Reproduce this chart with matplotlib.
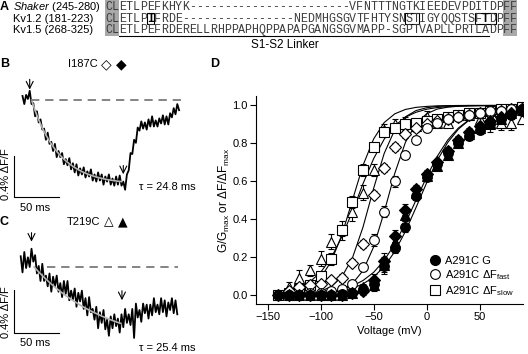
import numpy as np
import matplotlib.pyplot as plt
from matplotlib.patches import Rectangle
from matplotlib.lines import Line2D

plt.rcParams['font.family'] = ['Liberation Sans', 'DejaVu Sans']
plt.rcParams['mathtext.fontset'] = 'custom'
plt.rcParams['mathtext.rm'] = 'Liberation Sans'
plt.rcParams['mathtext.it'] = 'Liberation Sans:italic'
plt.rcParams['mathtext.bf'] = 'Liberation Sans:bold'

#%% panel A - sequence alignment
seq_names = [r'$\it{Shaker}$ (245-280)', 'Kv1.2 (181-223)', 'Kv1.5 (268-325)']
seq_rows = ['CLETLPEFKHYK-----------------------VFNTTTNGTKIEEDEVPDITDPFF',
            'CLETLPIFRDE----------------NEDMHGSGVTFHTYSNSTIGYQQSTSFTDPFF',
            'CLETLPEFRDERELLRHPPAPHQPPAPAPGANGSGVMAPP-SGPTVAPLLPRTLADPFF']
boxed = [(1, 6, 1), (1, 43, 2), (1, 53, 3)]   # row, first char, n chars
bold_chars = [(1, 6), (1, 54)]

#%% panels B, C - fluorescence traces (ms, % dF/F)
b_t0, b_dt = 25, 2
b_trace = [0.04, -0.04, 0.05, 0.01, 0.09, -0.04, -0.03, -0.16, -0.11, -0.22,
           -0.19, -0.29, -0.28, -0.39, -0.32, -0.43, -0.41, -0.50, -0.43, -0.56,
           -0.50, -0.56, -0.52, -0.63, -0.58, -0.64, -0.57, -0.68, -0.62, -0.71,
           -0.63, -0.74, -0.67, -0.73, -0.66, -0.76, -0.70, -0.75, -0.68, -0.79,
           -0.73, -0.80, -0.71, -0.79, -0.73, -0.83, -0.75, -0.80, -0.73, -0.83,
           -0.77, -0.84, -0.75, -0.83, -0.74, -0.84, -0.80, -0.88, -0.73, -0.69,
           -0.52, -0.53, -0.39, -0.42, -0.27, -0.30, -0.21, -0.28, -0.22, -0.29,
           -0.19, -0.26, -0.16, -0.26, -0.20, -0.26, -0.18, -0.23, -0.15, -0.24,
           -0.16, -0.24, -0.13, -0.17, -0.08, -0.14, -0.04, -0.10]
b_fit_t = [35, 39, 43, 47, 51, 55, 59, 63, 67, 71, 75, 79, 83, 87, 91, 95, 99,
           103, 107, 111, 115, 119, 123, 127, 131, 135]
b_fit = [0, -0.104, -0.194, -0.274, -0.343, -0.404, -0.457, -0.504, -0.544,
         -0.580, -0.611, -0.638, -0.662, -0.683, -0.702, -0.718, -0.732, -0.744,
         -0.755, -0.764, -0.772, -0.780, -0.786, -0.791, -0.796, -0.800]

c_t0, c_dt = 23, 2
c_trace = [0.10, -0.05, 0.14, -0.01, 0.09, 0.00, 0.17, 0.05, 0.11, -0.06,
           0.01, -0.13, 0.03, -0.13, -0.08, -0.18, -0.06, -0.23, -0.09, -0.18,
           -0.08, -0.23, -0.15, -0.28, -0.13, -0.25, -0.13, -0.31, -0.22, -0.30,
           -0.20, -0.37, -0.24, -0.32, -0.22, -0.39, -0.29, -0.45, -0.28, -0.42,
           -0.39, -0.49, -0.37, -0.57, -0.42, -0.52, -0.40, -0.58, -0.49, -0.64,
           -0.46, -0.57, -0.44, -0.55, -0.48, -0.61, -0.44, -0.56, -0.39, -0.52,
           -0.44, -0.54, -0.39, -0.66, -0.34, -0.47, -0.40, -0.51, -0.34, -0.43,
           -0.35, -0.48, -0.35, -0.45, -0.29, -0.42, -0.35, -0.44, -0.29, -0.42,
           -0.31, -0.46, -0.33, -0.40, -0.29, -0.43, -0.31, -0.44]
c_fit_t = [38, 42, 46, 50, 54, 58, 62, 66, 70, 74, 78, 82, 86, 90, 94, 98, 102,
           106, 110, 114, 118, 122, 126, 130, 134]
c_fit = [0, -0.037, -0.071, -0.104, -0.136, -0.166, -0.194, -0.221, -0.247,
         -0.272, -0.295, -0.317, -0.338, -0.359, -0.378, -0.396, -0.413, -0.429,
         -0.445, -0.460, -0.474, -0.488, -0.500, -0.513, -0.524]

#%% panel D - G-V and F-V curves
nan = np.nan
volts = [-140, -130, -120, -110, -100, -90, -80, -70, -60, -50, -40, -30,
         -20, -10, 0, 10, 20, 30, 40, 50, 60, 70, 80, 90]
g_a291 = [0.0, 0.0, 0.0, 0.0, 0.0, 0.0, 0.005, 0.01, 0.03, 0.06, 0.15, 0.25,
          0.36, 0.52, 0.62, 0.69, 0.75, 0.80, 0.84, 0.87, 0.90, 0.93, 0.95, 0.97]
g_i187 = [nan, 0.0, 0.0, 0.0, 0.0, 0.0, 0.0, 0.01, 0.02, 0.08, 0.18, 0.31,
          0.45, 0.56, 0.64, 0.70, 0.76, 0.82, 0.86, 0.89, 0.92, 0.94, 0.96, 0.98]
g_t219 = [nan, 0.0, 0.0, 0.0, 0.0, 0.0, 0.0, 0.01, 0.04, 0.05, 0.16, 0.28,
          0.42, 0.54, 0.63, 0.68, 0.74, 0.80, 0.85, 0.88, 0.91, 0.93, 0.96, 0.975]
f_fast = [0.0, 0.0, 0.0, 0.01, 0.01, 0.02, 0.03, 0.06, 0.145, 0.29, 0.44, 0.60,
          0.74, 0.82, 0.88, 0.91, 0.93, 0.94, 0.95, 0.96, 0.97, 0.97, 0.98, 0.98]
f_slow = [0.0, 0.01, 0.03, 0.05, 0.10, 0.19, 0.34, 0.49, 0.66, 0.78, 0.86, 0.88,
          0.90, 0.91, 0.92, 0.93, 0.94, 0.95, 0.96, 0.96, 0.97, 0.98, 0.98, 0.99]
f_i187 = [0.0, 0.02, 0.04, 0.05, 0.06, 0.08, 0.09, 0.17, 0.27, 0.53, 0.67, 0.78,
          0.85, 0.88, 0.90, 0.92, 0.93, 0.94, 0.95, 0.96, 0.96, 0.97, 0.98, 0.98]
f_t219 = [nan, 0.04, 0.09, 0.13, 0.19, 0.28, 0.34, 0.44, 0.54, 0.66, 0.87, 0.90,
          0.91, 0.89, 0.94, 0.91, 0.91, 0.95, 0.95, 0.93, 0.90, 0.91, 0.91, 0.93]

e_g = [0.01, 0.01, 0.01, 0.01, 0.01, 0.01, 0.01, 0.01, 0.02, 0.03, 0.04, 0.03,
       0.03, 0.02, 0.02, 0.02, 0.02, 0.02, 0.02, 0.02, 0.02, 0.02, 0.02, 0.02]
e_fast = [0.01, 0.01, 0.01, 0.01, 0.01, 0.01, 0.01, 0.01, 0.02, 0.03, 0.03, 0.03,
          0.02, 0.02, 0.02, 0.01, 0.01, 0.01, 0.01, 0.01, 0.01, 0.01, 0.01, 0.01]
e_slow = [0.01, 0.01, 0.02, 0.02, 0.02, 0.03, 0.03, 0.03, 0.03, 0.02, 0.02, 0.02,
          0.01, 0.01, 0.01, 0.01, 0.01, 0.01, 0.01, 0.01, 0.01, 0.01, 0.01, 0.01]
e_i187 = [0.01, 0.01, 0.01, 0.01, 0.01, 0.01, 0.02, 0.02, 0.02, 0.02, 0.02, 0.02,
          0.02, 0.01, 0.01, 0.01, 0.01, 0.01, 0.01, 0.01, 0.01, 0.01, 0.01, 0.01]
e_t219 = [nan, 0.03, 0.04, 0.03, 0.04, 0.04, 0.05, 0.05, 0.04, 0.03, 0.03, 0.03,
          0.03, 0.03, 0.03, 0.02, 0.02, 0.02, 0.02, 0.03, 0.04, 0.04, 0.04, 0.03]

fit_v = volts
fit_slow = [0.005, 0.010, 0.021, 0.044, 0.090, 0.177, 0.316, 0.500, 0.684, 0.823,
            0.910, 0.956, 0.979, 0.990, 0.995, 0.998, 0.999, 1, 1, 1, 1, 1, 1, 1]
fit_t219 = [0.013, 0.023, 0.040, 0.070, 0.119, 0.196, 0.306, 0.441, 0.587, 0.719,
            0.822, 0.893, 0.938, 0.964, 0.980, 0.989, 0.994, 0.996, 0.998, 0.999,
            0.999, 1, 1, 1]
fit_i187 = [0.001, 0.002, 0.004, 0.009, 0.019, 0.044, 0.095, 0.195, 0.358, 0.562,
            0.747, 0.872, 0.940, 0.973, 0.988, 0.995, 0.998, 0.999, 1, 1, 1, 1, 1, 1]
fit_fast = [0.0002, 0.0004, 0.001, 0.002, 0.005, 0.012, 0.027, 0.060, 0.128, 0.253,
            0.438, 0.642, 0.805, 0.905, 0.956, 0.981, 0.991, 0.996, 0.998, 0.999,
            1, 1, 1, 1]
fit_g1 = [0.0015, 0.0025, 0.0041, 0.0067, 0.011, 0.018, 0.029, 0.047, 0.076, 0.119,
          0.182, 0.269, 0.378, 0.5, 0.622, 0.731, 0.818, 0.881, 0.924, 0.953,
          0.971, 0.982, 0.989, 0.993]
fit_g2 = [0.0009, 0.0015, 0.0026, 0.0044, 0.0075, 0.0125, 0.021, 0.035, 0.058, 0.094,
          0.149, 0.229, 0.335, 0.461, 0.591, 0.710, 0.805, 0.875, 0.922, 0.952,
          0.971, 0.983, 0.990, 0.994]

#%% figure, with a pixel-space overlay for the text panel
fig = plt.figure(figsize=(5.28, 3.54), dpi=100)
ax0 = fig.add_axes([0, 0, 1, 1])
ax0.set_xlim(0, 528)
ax0.set_ylim(354, 0)
ax0.axis('off')

x0, cw = 105.0, 6.98
row_y = [7.0, 18.6, 30.2]
ax0.add_patch(Rectangle((x0, 0), 2 * cw, 36, color='#a8a8a8', lw=0, zorder=0))
ax0.add_patch(Rectangle((x0 + 57 * cw, 0), 2 * cw, 36, color='#a8a8a8', lw=0, zorder=0))
for r in range(3):
    ax0.text(13, row_y[r], seq_names[r], fontsize=8, va='center', ha='left')
    for i, ch in enumerate(seq_rows[r]):
        isbold = (r, i) in bold_chars
        ax0.text(x0 + (i + 0.5) * cw, row_y[r], ch, family='Liberation Mono',
                 fontsize=8.4, ha='center', va='center',
                 color='black' if isbold else '#3c3c3c',
                 fontweight='bold' if isbold else 'normal')
for r, i0, n in boxed:
    ax0.add_patch(Rectangle((x0 + i0 * cw, row_y[r] - 5.2), n * cw, 10.4,
                            fill=False, ec='black', lw=0.8))
ax0.plot([x0 + 2 * cw, x0 + 55 * cw], [35.5, 35.5], color='black', lw=0.8)
ax0.text(285, 44.5, 'S1-S2 Linker', fontsize=8.5, ha='center', va='center')

for lab, x, y in [('A', 0, 7.0), ('B', 0, 64), ('C', 0, 222), ('D', 210, 64)]:
    ax0.text(x, y, lab, fontsize=9, fontweight='bold', ha='left', va='center')

ax0.text(68, 64, 'I187C', fontsize=8, va='center')
ax0.text(106, 64, '\u25c7', family='DejaVu Sans', fontsize=10, ha='center', va='center')
ax0.text(121, 64, '\u25c6', family='DejaVu Sans', fontsize=10, ha='center', va='center')
ax0.text(67, 222, 'T219C', fontsize=8, va='center')
ax0.text(109, 222, '\u25b3', family='DejaVu Sans', fontsize=9, ha='center', va='center')
ax0.text(122.5, 222, '\u25b2', family='DejaVu Sans', fontsize=9, ha='center', va='center')

for y in [174, 312]:
    ax0.text(6, y, '0.4% \u0394F/F', fontsize=8, rotation=90, ha='center', va='center')
ax0.text(35.5, 208, '50 ms', fontsize=8, ha='center', va='center')
ax0.text(35.5, 343, '50 ms', fontsize=8, ha='center', va='center')
ax0.text(139, 187, '\u03c4 = 24.8 ms', fontsize=8, ha='left', va='center')
ax0.text(139, 348, '\u03c4 = 25.4 ms', fontsize=8, ha='left', va='center')

#%% traces
ms_px = 0.9
def trace_axes(rect, ylim):
    ax = fig.add_axes(rect)
    ax.set_xlim(0, 200 / ms_px)
    ax.set_ylim(*ylim)
    ax.axis('off')
    return ax

arrow = dict(arrowstyle='->,head_length=0.5,head_width=0.25', lw=0.8)

axB = trace_axes([0, 1 - 215 / 354, 200 / 528, 140 / 354], (-115 / 102, 25 / 102))
tb = b_t0 + b_dt * np.arange(len(b_trace))
axB.plot(tb, b_trace, color='black', lw=1.3)
axB.plot(b_fit_t, b_fit, color='#b4b4b4', lw=1.2)
axB.plot([35, 206], [0, 0], color='#707070', lw=1.2, dashes=(5, 3.5))
axB.annotate('', xy=(33, 0.075), xytext=(33, 0.23), arrowprops=arrow)
axB.annotate('', xy=(137, -0.755), xytext=(137, -0.615), arrowprops=arrow)
sb_t, sb_y = 15.6, -0.95
axB.plot([sb_t, sb_t, sb_t + 50], [sb_y + 0.4, sb_y, sb_y], color='black', lw=0.8)

axC = trace_axes([0, 0, 200 / 528, 129 / 354], (-87 / 107.5, 42 / 107.5))
tc = c_t0 + c_dt * np.arange(len(c_trace))
axC.plot(tc, c_trace, color='black', lw=1.3)
axC.plot(c_fit_t, c_fit, color='#b4b4b4', lw=1.2)
axC.plot([52, 198], [0, 0], color='#707070', lw=1.2, dashes=(5, 3.5))
axC.annotate('', xy=(35, 0.21), xytext=(35, 0.345), arrowprops=arrow)
axC.annotate('', xy=(135.5, -0.335), xytext=(135.5, -0.195), arrowprops=arrow)
sc_y = -0.614
axC.plot([sb_t, sb_t, sb_t + 50], [sc_y + 0.4, sc_y, sc_y], color='black', lw=0.8)

#%% panel D
axD = fig.add_axes([256 / 528, 1 - 304 / 354, 267 / 528, 208 / 354])
for fit in [fit_slow, fit_t219, fit_i187, fit_fast, fit_g1, fit_g2]:
    axD.plot(fit_v, fit, color='black', lw=0.8, zorder=1)

def series(y, err, marker, filled, ms):
    axD.errorbar(volts, y, yerr=err, fmt='none', ecolor='black', elinewidth=0.8,
                 capsize=2.5, capthick=0.8, zorder=2)
    h, = axD.plot(volts, y, ls='none', marker=marker, ms=ms,
                  mfc='black' if filled else 'white', mec='black', mew=0.8, zorder=3)
    return h

series(f_t219, e_t219, '^', False, 7.5)
h_slow = series(f_slow, e_slow, 's', False, 6.5)
series(f_i187, e_i187, 'D', False, 6)
h_fast = series(f_fast, e_fast, 'o', False, 7)
series(g_t219, e_g, '^', True, 7.5)
series(g_i187, e_g, 'D', True, 6)
h_g = series(g_a291, e_g, 'o', True, 7)

axD.set_xlim(-161, 91)
axD.set_ylim(-0.048, 1.05)
axD.set_xticks([-150, -100, -50, 0, 50])
axD.set_yticks([0, 0.2, 0.4, 0.6, 0.8, 1.0])
axD.set_yticklabels(['0.0', '0.2', '0.4', '0.6', '0.8', '1.0'])
axD.spines['top'].set_visible(False)
axD.spines['right'].set_visible(False)
for s in ['left', 'bottom']:
    axD.spines[s].set_linewidth(0.8)
axD.tick_params(direction='out', length=4, width=0.8, labelsize=8, pad=2)
axD.set_xlabel('Voltage (mV)', fontsize=8, labelpad=3)
axD.set_ylabel(r'G/G$_{\rm max}$ or $\Delta$F/$\Delta$F$_{\rm max}$', fontsize=8.5, labelpad=0)

leg_h = [Line2D([], [], ls='none', marker='o', ms=7, mfc='black', mec='black'),
         Line2D([], [], ls='none', marker='o', ms=7, mfc='white', mec='black', mew=0.8),
         Line2D([], [], ls='none', marker='s', ms=6.5, mfc='white', mec='black', mew=0.8)]
leg_l = ['A291C G', r'A291C $\Delta$F$_{\rm fast}$', r'A291C $\Delta$F$_{\rm slow}$']
axD.legend(leg_h, leg_l, loc='lower left', bbox_to_anchor=(0.65, 0.03), frameon=False,
           fontsize=8, handlelength=1, handletextpad=0.4, labelspacing=0.2,
           borderpad=0, borderaxespad=0)

fig.savefig('out.png', dpi=100)
